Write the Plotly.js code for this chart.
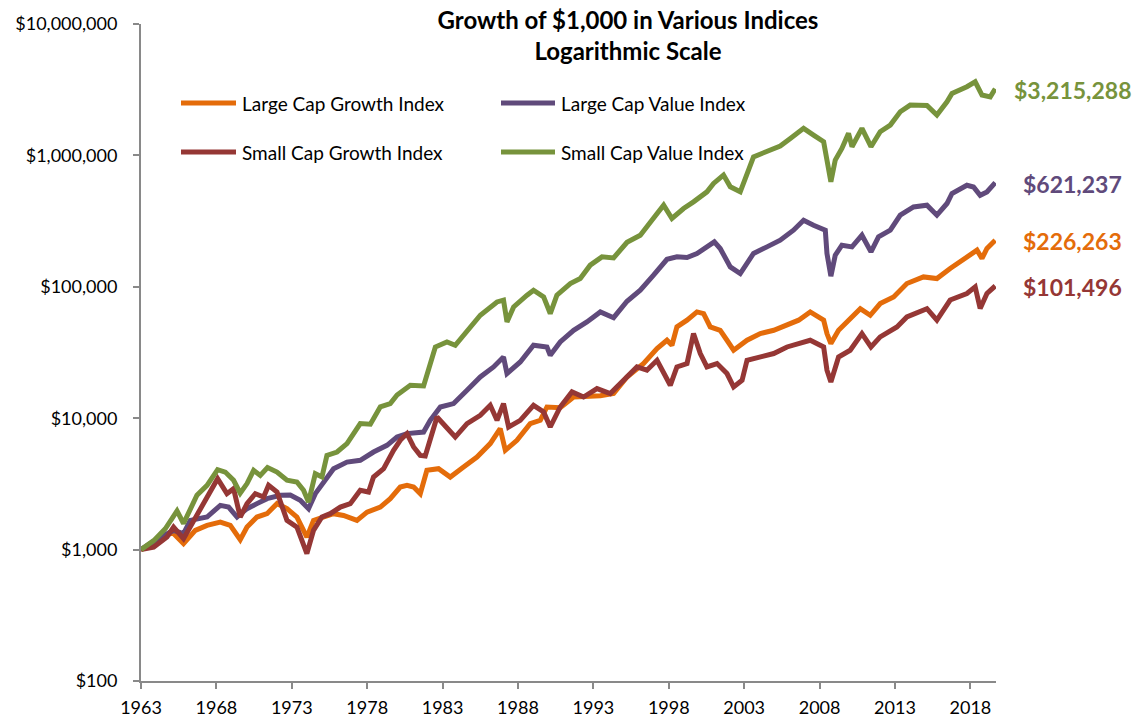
<!DOCTYPE html>
<html>
<head>
<meta charset="utf-8">
<script src="https://cdn.plot.ly/plotly-3.0.1.min.js"></script>
<style>
  html, body { margin: 0; padding: 0; background: #ffffff; }
  #chart { width: 1138px; height: 720px; }
</style>
</head>
<body>
<div id="chart"></div>
<script>
// ---------- DATA ----------
const seriesNames = ['Large Cap Growth Index', 'Large Cap Value Index', 'Small Cap Growth Index', 'Small Cap Value Index'];

const lcgYears = [1963.0,1964.28,1965.06,1965.82,1966.6,1967.38,1968.26,1968.92,1969.58,1970.03,1970.69,1971.36,1972.02,1972.68,1973.34,1974.0,1974.44,1975.11,1975.77,1976.43,1977.32,1977.99,1978.87,1979.53,1980.19,1980.64,1981.08,1981.52,1981.96,1982.73,1983.51,1984.39,1985.28,1986.16,1986.82,1987.16,1987.93,1988.81,1989.48,1989.92,1990.8,1991.69,1992.57,1993.46,1994.34,1995.23,1996.33,1997.22,1997.88,1998.21,1998.54,1999.21,1999.87,2000.31,2000.75,2001.41,2001.86,2002.3,2003.19,2004.07,2004.96,2005.84,2006.61,2007.38,2008.27,2008.49,2008.75,2009.26,2010.03,2010.7,2011.36,2012.02,2012.91,2013.79,2014.89,2015.78,2016.66,2017.77,2018.44,2018.77,2019.1,2019.65];
const lcgValues = [1000,1175,1359,1109,1400,1528,1620,1528,1190,1484,1770,1877,2238,2048,1770,1245,1668,1770,1877,1820,1668,1930,2107,2442,2992,3083,2992,2666,4010,4130,3565,4250,5060,6410,8340,5700,6790,9100,9640,12170,12000,14500,14600,14800,15400,20600,26060,33900,39200,35900,49500,55700,64400,62600,49500,46670,39200,32900,39200,44060,46670,50900,55700,64400,55700,44060,37000,46670,57300,68200,60700,74500,83800,105900,118900,115600,137800,169000,190000,164300,195700,226263];

const lcvYears = [1963.0,1964.28,1965.16,1965.82,1966.27,1967.38,1968.26,1968.81,1969.37,1970.03,1970.69,1971.36,1972.24,1972.9,1973.56,1974.11,1974.56,1975.22,1975.77,1976.66,1977.54,1978.42,1979.31,1979.98,1980.64,1981.74,1982.18,1982.85,1983.73,1984.62,1985.5,1986.38,1987.04,1987.27,1988.15,1989.03,1989.92,1990.14,1990.8,1991.69,1992.57,1993.46,1994.34,1995.23,1996.11,1996.99,1997.88,1998.54,1999.21,1999.87,2000.53,2001.02,2001.41,2002.08,2002.74,2003.62,2004.51,2005.39,2006.27,2006.94,2007.6,2008.38,2008.49,2008.75,2009.04,2009.48,2010.15,2010.81,2011.41,2011.91,2012.69,2013.35,2014.23,2015.12,2015.78,2016.45,2016.78,2017.77,2018.21,2018.65,2019.1,2019.65];
const lcvValues = [1000,1245,1400,1321,1668,1770,2172,2107,1770,2048,2238,2442,2588,2600,2370,2048,2666,3365,4130,4637,4780,5530,6216,7190,7636,7850,9640,12170,12920,16300,20600,24550,29240,21870,26800,35900,34840,30130,38020,46670,54000,64400,58200,77600,94200,122500,161800,169000,167000,179300,201300,219800,195700,141700,126200,179300,201300,226500,269800,321400,294400,269800,179300,120500,174000,207300,201300,247000,184500,239900,269800,351000,405500,417800,351000,430500,513000,593000,575000,497000,527000,621237];

const scgYears = [1963.0,1963.84,1964.72,1965.16,1965.82,1966.49,1967.38,1968.08,1968.7,1969.14,1969.58,1970.03,1970.58,1971.13,1971.46,1972.02,1972.68,1973.34,1974.0,1974.44,1975.0,1975.55,1976.22,1976.88,1977.54,1978.09,1978.42,1979.09,1979.75,1980.19,1980.64,1981.08,1981.52,1981.85,1982.63,1983.29,1983.84,1984.62,1985.5,1986.16,1986.61,1987.04,1987.38,1988.15,1989.03,1989.7,1990.14,1990.8,1991.58,1992.35,1993.24,1994.12,1995.0,1995.89,1996.55,1997.22,1998.1,1998.54,1999.21,1999.64,2000.09,2000.53,2001.2,2001.86,2002.3,2002.86,2003.19,2004.07,2004.96,2005.84,2006.61,2007.38,2008.27,2008.49,2008.75,2009.26,2010.03,2010.81,2011.41,2012.02,2013.13,2013.79,2015.12,2015.78,2016.66,2017.77,2018.32,2018.65,2019.1,2019.65];
const scgValues = [1000,1044,1245,1484,1210,1668,2588,3467,2666,2910,1770,2238,2666,2512,3083,2742,1668,1484,931,1400,1770,1877,2107,2238,2825,2742,3565,4130,5700,6790,7636,6040,5213,5150,10210,8570,7190,9100,10510,12530,9640,12920,8570,9640,12530,11140,8570,12170,15850,14500,16800,15400,19450,24550,23200,27600,17800,24550,26060,44060,31050,24550,26060,21870,17290,19450,27600,29240,31050,34840,37000,39200,34840,23200,18870,29240,32900,44060,34840,41600,49500,59000,68200,55700,79300,88900,99800,68400,88900,101496];

const scvYears = [1963.0,1963.84,1964.61,1965.39,1965.82,1966.27,1966.71,1967.38,1968.08,1968.59,1969.14,1969.58,1970.03,1970.47,1970.91,1971.39,1972.02,1972.68,1973.34,1973.78,1974.11,1974.56,1975.0,1975.33,1976.0,1976.66,1977.54,1978.21,1978.87,1979.53,1979.98,1980.86,1981.74,1982.52,1983.29,1983.84,1984.84,1985.5,1986.61,1987.04,1987.27,1987.71,1988.6,1989.03,1989.7,1990.14,1990.58,1991.47,1992.13,1992.79,1993.57,1994.34,1995.23,1996.11,1996.88,1997.66,1998.21,1998.98,1999.64,2000.53,2000.97,2001.63,2002.08,2002.74,2003.62,2004.51,2005.39,2006.06,2006.94,2007.6,2008.27,2008.49,2008.75,2009.04,2009.48,2009.92,2010.15,2010.81,2011.41,2012.02,2012.69,2013.35,2014.01,2015.12,2015.78,2016.45,2016.78,2017.77,2018.32,2018.77,2019.32,2019.65];
const scvValues = [1000,1170,1440,1970,1580,1990,2590,3080,4060,3890,3370,2690,3180,4010,3670,4210,3890,3370,3270,2830,2300,3780,3570,5210,5530,6410,9100,9000,12200,12900,15000,17800,17600,34800,38000,35900,49500,60800,76700,79100,54000,70300,86300,94200,83800,62600,86300,105900,115700,146100,169000,166000,218000,247000,321000,418000,331000,394000,443000,528000,612000,708000,577000,528000,975000,1064000,1177000,1346000,1606000,1428000,1270000,921000,630000,921000,1130000,1471000,1164000,1606000,1164000,1513000,1702000,2148000,2415000,2400000,2028000,2560000,2966000,3330000,3630000,2880000,2790000,3215288];

const xTickVals = [1963,1968,1973,1978,1983,1988,1993,1998,2003,2008,2013,2018];
const yTickVals = [100,1000,10000,100000,1000000,10000000];
const titleLines = ['Growth of $1,000 in Various Indices', 'Logarithmic Scale'];

// ---------- STYLE ----------
const colors = ['#E46C0A', '#604A7B', '#953735', '#77933C'];
const FONT = 'Lato, "Open Sans", "Liberation Sans", sans-serif';
const axisColor = '#898989';

const M = { l: 141, r: 142, t: 24, b: 39 };
const W = 1138 - M.l - M.r, H = 720 - M.t - M.b;
const fx = px => (px - M.l) / W;
const fy = py => (M.t + H - py) / H;

const xs = [lcgYears, lcvYears, scgYears, scvYears];
const ys = [lcgValues, lcvValues, scgValues, scvValues];

const traces = xs.map((x, i) => ({
  type: 'scatter', mode: 'lines', name: seriesNames[i],
  x: x, y: ys[i],
  line: { color: colors[i], width: 5 },
  hoverinfo: 'skip', showlegend: false
}));

// custom legend (two columns, two rows) in pixel positions
const legendPos = [
  { x0: 181, x1: 236, y: 103, tx: 240 },
  { x0: 501, x1: 555, y: 103, tx: 559 },
  { x0: 181, x1: 236, y: 152, tx: 240 },
  { x0: 501, x1: 555, y: 152, tx: 559 }
];
const shapes = legendPos.map((p, i) => ({
  type: 'line', xref: 'paper', yref: 'paper',
  x0: fx(p.x0), x1: fx(p.x1), y0: fy(p.y), y1: fy(p.y),
  line: { color: colors[i], width: 5 }
}));
const annotations = legendPos.map((p, i) => ({
  xref: 'paper', yref: 'paper', x: fx(p.tx), y: fy(p.y),
  xanchor: 'left', yanchor: 'middle', showarrow: false,
  text: seriesNames[i], font: { family: FONT, size: 19, color: '#000000' }
}));

// end value labels
const fmt = v => '$' + Math.round(v).toLocaleString('en-US');
ys.forEach((vals, i) => {
  const n = vals.length - 1;
  annotations.push({
    xref: 'x', yref: 'y', x: xs[i][n], y: Math.log10(vals[n]),
    xanchor: 'center', yanchor: 'middle', xshift: 77, yshift: -1,
    showarrow: false, text: '<b>' + fmt(vals[n]) + '</b>',
    font: { family: FONT, size: 23, color: colors[i] }
  });
});

const layout = {
  width: 1138, height: 720,
  margin: M,
  paper_bgcolor: '#ffffff', plot_bgcolor: '#ffffff',
  font: { family: FONT, size: 18, color: '#000000' },
  title: {
    text: titleLines.map(t => '<b>' + t + '</b>').join('<br>'),
    font: { family: FONT, size: 24, color: '#000000' },
    x: 628 / 1138, xanchor: 'center', xref: 'container',
    y: 1 - 29 / 720, yanchor: 'top', yref: 'container'
  },
  showlegend: false,
  xaxis: {
    type: 'linear', range: [1963, 2019.7],
    tickmode: 'array', tickvals: xTickVals, ticktext: xTickVals.map(String),
    showgrid: false, zeroline: false,
    showline: true, linecolor: axisColor, linewidth: 2,
    ticks: 'outside', ticklen: 6, tickwidth: 2, tickcolor: axisColor,
    ticklabelstandoff: 3,
    tickfont: { family: FONT, size: 18, color: '#000000' }
  },
  yaxis: {
    type: 'log', range: [2, 7],
    tickmode: 'array', tickvals: yTickVals, ticktext: yTickVals.map(fmt),
    showgrid: false, zeroline: false,
    showline: true, linecolor: axisColor, linewidth: 2,
    ticks: 'outside', ticklen: 6, tickwidth: 2, tickcolor: axisColor,
    ticklabelstandoff: 12,
    tickfont: { family: FONT, size: 18, color: '#000000' }
  },
  shapes: shapes,
  annotations: annotations
};

Plotly.newPlot('chart', traces, layout, { staticPlot: true, displayModeBar: false });
</script>
</body>
</html>
